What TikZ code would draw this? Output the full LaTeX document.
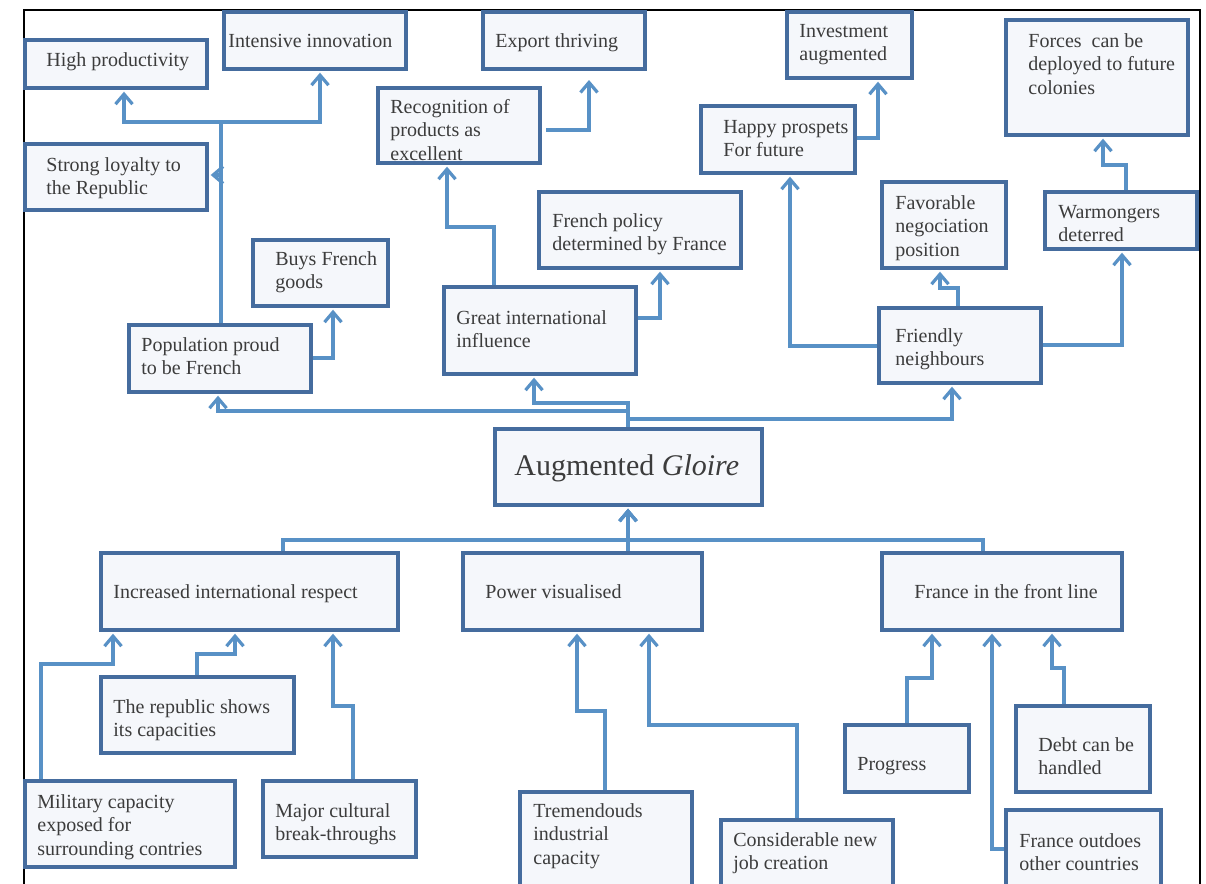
\documentclass[tikz,border=0pt]{standalone}
\usepackage{fontspec}
\setmainfont{Liberation Serif}
\usetikzlibrary{arrows.meta,fit}

\definecolor{cardline}{HTML}{456C9E}
\definecolor{cardfill}{HTML}{F5F7FB}
\definecolor{linkblue}{HTML}{5891C6}
\definecolor{inkgray}{HTML}{3C3C3C}

\tikzset{
  card/.style={rectangle, draw=cardline, fill=cardfill, line width=1.7pt, inner sep=0pt},
  words/.style={anchor=base west, inner sep=0pt, text=inkgray,
                font=\fontsize{10}{11.75}\selectfont},
  link/.style={draw=linkblue, line width=1.6pt,
               -{Straight Barb[length=5pt,width=8.5pt]}, shorten >=1pt},
  frameline/.style={draw=black, line width=1.3pt}
}

% box from corner to corner; its text hangs from the baseline of the first line
\newcommand\card[8]{%
  \node[card, fit={(#2,#3) (#4,#5)}] (#1) {};
  \node[words] (#1-t) at (#6,#7)
    {\begin{tabular}[t]{@{}l@{}}#8\end{tabular}};}

\begin{document}
\begin{tikzpicture}[x=0.5pt,y=-0.5pt]
\clip (0,0) rectangle (1206,884);
\fill[white] (0,0) rectangle (1206,884);

% page frame
\draw[frameline] (24,890) -- (24,10) -- (1200,10) -- (1200,890);

% upper half: consequences
\card{hp}{25}{40}{207}{88}{46}{66}{High productivity}
\card{inno}{224}{12}{406}{69}{228}{47}{Intensive innovation}
\card{loyal}{25}{144}{207}{210}{46}{171}{Strong loyalty to\\the Republic}
\card{recog}{378}{88}{540}{163}{390}{113}{Recognition of\\products as\\excellent}
\card{export}{483}{12}{645}{69}{495}{47}{Export thriving}
\card{invest}{787}{12}{912}{78}{799}{37}{Investment\\augmented}
\card{happy}{701}{106}{855}{173}{723}{133}{Happy prospets\\For future}
\card{forces}{1006}{20}{1188}{135}{1028}{47}{Forces\ \ can be\\deployed to future\\colonies}
\card{fav}{882}{182}{1006}{268}{895}{209}{Favorable\\negociation\\position}
\card{war}{1045}{192}{1197}{249}{1058}{218}{Warmongers\\deterred}
\card{policy}{539}{192}{741}{268}{552}{227}{French policy\\determined by France}
\card{buys}{253}{240}{388}{306}{275}{265}{Buys French\\goods}
\card{pop}{129}{325}{311}{392}{141}{351}{Population proud\\to be French}
\card{great}{444}{287}{636}{374}{456}{324}{Great international\\influence}
\card{friend}{879}{308}{1041}{383}{895}{342}{Friendly\\neighbours}

% centre
\node[card, fit={(495,429) (762,505)}] (glo) {};
\node[words, font=\fontsize{15}{18}\selectfont] (glo-t) at (514,475) {Augmented \textit{Gloire}};

% lower half: causes
\card{resp}{101}{553}{398}{630}{113}{598}{Increased international respect}
\card{power}{463}{553}{702}{630}{485}{598}{Power visualised}
\card{front}{882}{553}{1122}{630}{914}{598}{France in the front line}
\card{rep}{101}{677}{294}{753}{113}{713}{The republic shows\\its capacities}
\card{mil}{25}{781}{235}{867}{37}{808}{Military capacity\\exposed for\\surrounding contries}
\card{major}{263}{781}{416}{857}{275}{817}{Major cultural\\break-throughs}
\card{trem}{520}{792}{692}{900}{533}{817}{Tremendouds\\industrial\\capacity}
\card{job}{721}{820}{893}{900}{733}{846}{Considerable new\\job creation}
\card{prog}{845}{725}{969}{792}{857}{770}{Progress}
\card{debt}{1016}{706}{1150}{792}{1038}{751}{Debt can be\\handled}
\card{outdo}{1006}{810}{1161}{900}{1019}{847}{France outdoes\\other countries}

% free ends of the export link
\coordinate (recog-out) at (546,130);
\coordinate (export-in) at (589,78);

% upper connectors
\draw[link] (221,0 |- pop.north) -- (221,122) -| (124,0 |- hp.south);
\draw[link] (221,122) -| (320,0 |- inno.south);
\draw[link] (221,175) -- (loyal.east |- 0,175);
\draw[link] (pop.east |- 0,358) -| (333,0 |- buys.south);
\draw[link] (628,0 |- glo.north) -- (628,403) -| (534,0 |- great.south);
\draw[link] (628,411) -| (218,0 |- pop.south);
\draw[link] (628,419) -| (952,0 |- friend.south);
\draw[link] (494,0 |- great.north) -- (494,227) -| (447,0 |- recog.south);
\draw[link] (great.east |- 0,318) -| (660,0 |- policy.south);
\draw[link] (recog-out) -| (export-in);
\draw[link] (friend.west |- 0,346) -| (790,0 |- happy.south);
\draw[link] (happy.east |- 0,138) -| (878,0 |- invest.south);
\draw[link] (958,0 |- friend.north) -- (958,288) -| (940,0 |- fav.south);
\draw[link] (friend.east |- 0,345) -| (1122,0 |- war.south);
\draw[link] (1126,0 |- war.north) -- (1126,165) -| (1103,0 |- forces.south);

% lower connectors
\draw[link] (283,0 |- resp.north) -- (283,540) -| (628,0 |- glo.south);
\draw[link] (628,0 |- power.north) -- (628,0 |- glo.south);
\draw[link] (983,0 |- front.north) -- (983,540) -| (628,0 |- glo.south);
\draw[link] (41,0 |- mil.north) -- (41,664) -| (113,0 |- resp.south);
\draw[link] (197,0 |- rep.north) -- (197,654) -| (235,0 |- resp.south);
\draw[link] (353,0 |- major.north) -- (353,706) -| (333,0 |- resp.south);
\draw[link] (605,0 |- trem.north) -- (605,711) -| (577,0 |- power.south);
\draw[link] (797,0 |- job.north) -- (797,725) -| (649,0 |- power.south);
\draw[link] (907,0 |- prog.north) -- (907,678) -| (932,0 |- front.south);
\draw[link] (outdo.west |- 0,849) -| (992,0 |- front.south);
\draw[link] (1064,0 |- debt.north) -- (1064,668) -| (1052,0 |- front.south);
\end{tikzpicture}
\end{document}
